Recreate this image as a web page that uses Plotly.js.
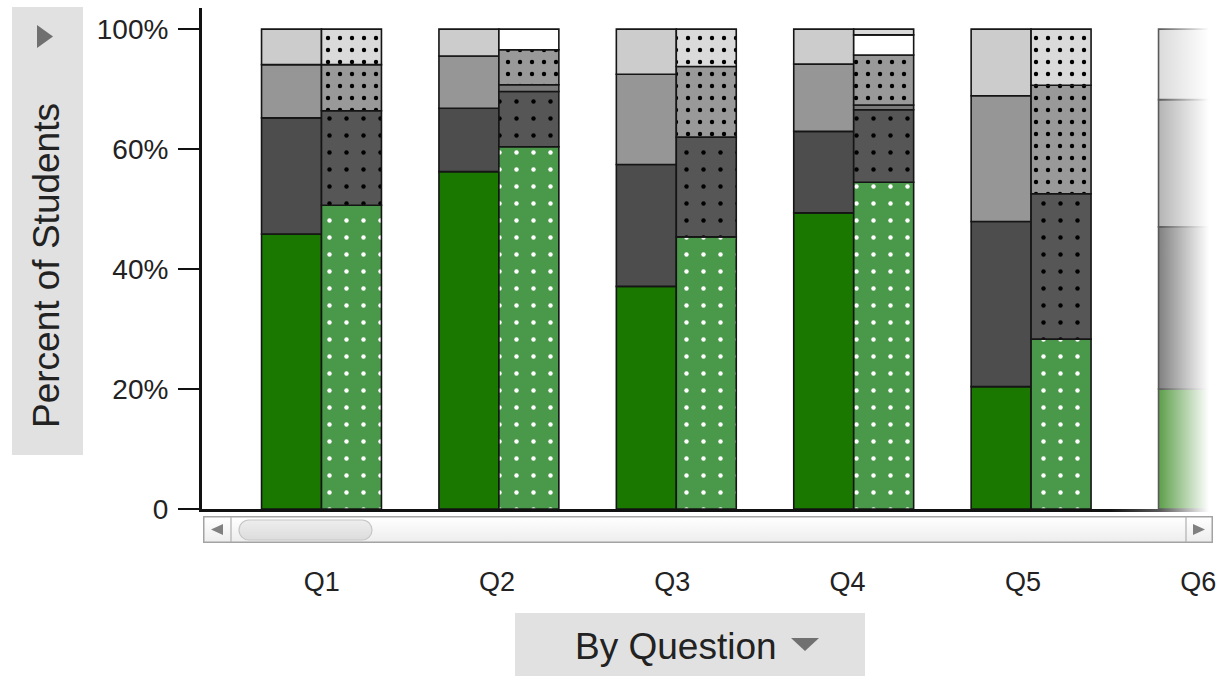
<!DOCTYPE html>
<html>
<head>
<meta charset="utf-8">
<script src="https://cdn.plot.ly/plotly-3.0.1.min.js"></script>
<style>
  html, body { margin: 0; padding: 0; background: #ffffff; }
  #chart { width: 1220px; height: 676px; }
</style>
</head>
<body>
<div id="chart"></div>
<script>
// Questions along the x axis
const categories = ['Q1', 'Q2', 'Q3', 'Q4', 'Q5', 'Q6'];

// Solid bars: share of students per response band, stacked bottom to top (%)
const solidGreen = [57.3, 70.3, 46.4, 61.7, 25.5, 25.0];
const solidDark  = [24.2, 13.2, 25.4, 17.0, 34.4, 33.8];
const solidMid   = [11.1, 10.9, 18.8, 14.0, 26.2, 26.5];
const solidLight = [7.4, 5.6, 9.4, 7.3, 13.9, 14.7];

// Dotted bars: same bands for the comparison group (%), Q6 scrolled out of view
const dotGreen = [63.3, 75.5, 56.7, 68.1, 35.4, null];
const dotDark  = [19.7, 11.5, 20.8, 15.1, 30.3, null];
const dotEdge  = [null, 1.4, null, 1.0, null, null];
const dotMid   = [9.6, 7.3, 14.7, 10.4, 22.6, null];
const dotBlank = [null, 4.3, null, 4.2, null, null];
const dotLight = [7.4, null, 7.8, 1.2, 11.7, null];

// Y axis ticks
const yTickVals = [0, 25, 50, 75, 100];
const yTickText = ['0', '20%', '40%', '60%', '100%'];

// ---- geometry helpers (canvas pixels -> paper coordinates) ----
const W = 1220, H = 676;
const M = { l: 202, r: 8, t: 8, b: 167 };
const PW = W - M.l - M.r, PH = H - M.t - M.b;
const fx = x => (x - M.l) / PW;
const fy = y => (H - M.b - y) / PH;

const step = 177.4;          // pixels between question groups
const firstCenter = 321.5;   // pixel centre of Q1 group
const xRange = [(M.l - firstCenter) / step, (W - M.r - firstCenter) / step];
const labelStep = 175.3, labelFirst = 321.7;
const x2Range = [(M.l - labelFirst) / labelStep, (W - M.r - labelFirst) / labelStep];

const barW = 0.338;
// the partly scrolled group sits a little further right than the regular spacing
const lastShift = 10 / step;
const FONT = 'Liberation Sans, Arial, Helvetica, sans-serif';
const edge = { color: '#151515', width: 1.6 };

function stackTraces(series, offset) {
  const running = categories.map(() => 0);
  const offsets = categories.map((c, i) => offset + (i === categories.length - 1 ? lastShift : 0));
  return series.map(s => {
    const base = running.slice();
    s.values.forEach((v, i) => { if (v != null) running[i] += v; });
    const marker = { color: s.color, line: edge };
    if (s.dots) {
      marker.pattern = {
        shape: '.', fillmode: 'replace', bgcolor: s.color,
        fgcolor: s.dots, size: s.size, solidity: s.solidity
      };
    }
    return {
      type: 'bar', name: s.name, x: categories, y: s.values, base: base,
      offset: offsets, width: barW, marker: marker,
      hoverinfo: 'skip', showlegend: false
    };
  });
}

const solidTraces = stackTraces([
  { name: 'band 1', values: solidGreen, color: '#1a7800' },
  { name: 'band 2', values: solidDark,  color: '#4d4d4d' },
  { name: 'band 3', values: solidMid,   color: '#969696' },
  { name: 'band 4', values: solidLight, color: '#cccccc' }
], -barW);

const dottedTraces = stackTraces([
  { name: 'band 1', values: dotGreen, color: '#4a994a', dots: '#ffffff', size: 17, solidity: 0.055 },
  { name: 'band 2', values: dotDark,  color: '#565656', dots: '#000000', size: 17, solidity: 0.055 },
  { name: 'band 2b', values: dotEdge, color: '#7a7a7a' },
  { name: 'band 3', values: dotMid,   color: '#999999', dots: '#000000', size: 12, solidity: 0.105 },
  { name: 'no answer', values: dotBlank, color: '#ffffff' },
  { name: 'band 4', values: dotLight, color: '#dadada', dots: '#000000', size: 12, solidity: 0.105 }
], 0);

// Carrier for the question labels row under the scrollbar
const labelRow = {
  type: 'scatter', mode: 'markers', xaxis: 'x2', yaxis: 'y',
  x: categories.map((c, i) => i), y: categories.map(() => null),
  marker: { opacity: 0 }, hoverinfo: 'skip', showlegend: false
};

// Horizontal scrollbar under the plot
const scrollSvg =
  "<svg xmlns='http://www.w3.org/2000/svg' width='1010' height='27' viewBox='0 0 1010 27'>" +
  "<defs>" +
  "<linearGradient id='t' x1='0' y1='0' x2='0' y2='1'><stop offset='0' stop-color='#ffffff'/><stop offset='1' stop-color='#ededed'/></linearGradient>" +
  "<linearGradient id='k' x1='0' y1='0' x2='0' y2='1'><stop offset='0' stop-color='#eeeeee'/><stop offset='1' stop-color='#dcdcdc'/></linearGradient>" +
  "</defs>" +
  "<rect x='0.75' y='0.75' width='1008.5' height='25.5' fill='url(#t)' stroke='#a3a3a3' stroke-width='1.5'/>" +
  "<line x1='28' y1='1' x2='28' y2='26' stroke='#b0b0b0' stroke-width='1.2'/>" +
  "<line x1='983' y1='1' x2='983' y2='26' stroke='#b0b0b0' stroke-width='1.2'/>" +
  "<path d='M8 13.5 L20 8 L20 19 Z' fill='#808080'/>" +
  "<path d='M1002 13.5 L990 8 L990 19 Z' fill='#808080'/>" +
  "<rect x='36' y='4' width='133' height='20' rx='10' ry='10' fill='url(#k)' stroke='#c6c6c6' stroke-width='1.2'/>" +
  "</svg>";

// Fade-out for the group that is partly scrolled past the right edge
const fadeSvg =
  "<svg xmlns='http://www.w3.org/2000/svg' width='100' height='100' viewBox='0 0 100 100' preserveAspectRatio='none'>" +
  "<defs><linearGradient id='f' x1='0' y1='0' x2='1' y2='0'>" +
  "<stop offset='0' stop-color='#ffffff' stop-opacity='0'/>" +
  "<stop offset='0.45' stop-color='#ffffff' stop-opacity='0.3'/>" +
  "<stop offset='0.9' stop-color='#ffffff' stop-opacity='1'/>" +
  "<stop offset='1' stop-color='#ffffff' stop-opacity='1'/>" +
  "</linearGradient></defs>" +
  "<rect width='100' height='100' fill='url(#f)'/></svg>";

const svgURI = s => 'data:image/svg+xml;charset=utf-8,' + encodeURIComponent(s);

const tri = pts => 'M ' + pts.map(p => fx(p[0]) + ',' + fy(p[1])).join(' L ') + ' Z';

const layout = {
  width: W, height: H,
  margin: { l: M.l, r: M.r, t: M.t, b: M.b, pad: 0 },
  paper_bgcolor: '#ffffff', plot_bgcolor: '#ffffff',
  barmode: 'overlay',
  font: { family: FONT, color: '#222222' },
  xaxis: {
    type: 'category', categoryorder: 'array', categoryarray: categories,
    range: xRange, showticklabels: false, ticks: '', showgrid: false, zeroline: false,
    showline: true, linecolor: '#111111', linewidth: 3, fixedrange: true
  },
  xaxis2: {
    overlaying: 'x', anchor: 'y', side: 'bottom', type: 'linear',
    range: x2Range, tickmode: 'array', tickvals: categories.map((c, i) => i), ticktext: categories,
    ticks: '', showgrid: false, zeroline: false, showline: false,
    ticklabelstandoff: 54, tickfont: { family: FONT, size: 27, color: '#222222' }, fixedrange: true
  },
  yaxis: {
    range: [0, 104.4], tickmode: 'array', tickvals: yTickVals, ticktext: yTickText,
    ticks: 'outside', ticklen: 21, tickwidth: 2, tickcolor: '#111111',
    ticklabelstandoff: 4,
    tickfont: { family: FONT, size: 28, color: '#222222' },
    showgrid: false, zeroline: false,
    showline: true, linecolor: '#111111', linewidth: 3, fixedrange: true
  },
  shapes: [
    // y title button
    { type: 'rect', xref: 'paper', yref: 'paper', x0: fx(12), x1: fx(83), y0: fy(455), y1: fy(7),
      fillcolor: '#e1e1e1', line: { width: 0 }, layer: 'below' },
    { type: 'path', xref: 'paper', yref: 'paper', path: tri([[37, 25], [53, 36.5], [37, 48]]),
      fillcolor: '#707070', line: { width: 0 } },
    // x title button
    { type: 'rect', xref: 'paper', yref: 'paper', x0: fx(515), x1: fx(865), y0: fy(676), y1: fy(613),
      fillcolor: '#e1e1e1', line: { width: 0 }, layer: 'below' },
    { type: 'path', xref: 'paper', yref: 'paper', path: tri([[791, 638], [819, 638], [805, 651]]),
      fillcolor: '#707070', line: { width: 0 } }
  ],
  annotations: [
    { text: 'Percent of Students', xref: 'paper', yref: 'paper', x: fx(46), y: fy(266),
      xanchor: 'center', yanchor: 'middle', textangle: -90, showarrow: false,
      font: { family: FONT, size: 37, color: '#222222' } },
    { text: 'By Question', xref: 'paper', yref: 'paper', x: fx(676), y: fy(646),
      xanchor: 'center', yanchor: 'middle', showarrow: false,
      font: { family: FONT, size: 37, color: '#222222' } }
  ],
  images: [
    { source: svgURI(scrollSvg), xref: 'paper', yref: 'paper',
      x: fx(203), y: fy(516), sizex: 1010 / PW, sizey: 27 / PH,
      xanchor: 'left', yanchor: 'top', sizing: 'stretch', layer: 'above' },
    { source: svgURI(fadeSvg), xref: 'paper', yref: 'paper',
      x: fx(1110), y: fy(6), sizex: 110 / PW, sizey: 508 / PH,
      xanchor: 'left', yanchor: 'top', sizing: 'stretch', layer: 'above' }
  ]
};

Plotly.newPlot('chart', solidTraces.concat(dottedTraces, [labelRow]), layout,
  { displayModeBar: false, staticPlot: true });
</script>
</body>
</html>
